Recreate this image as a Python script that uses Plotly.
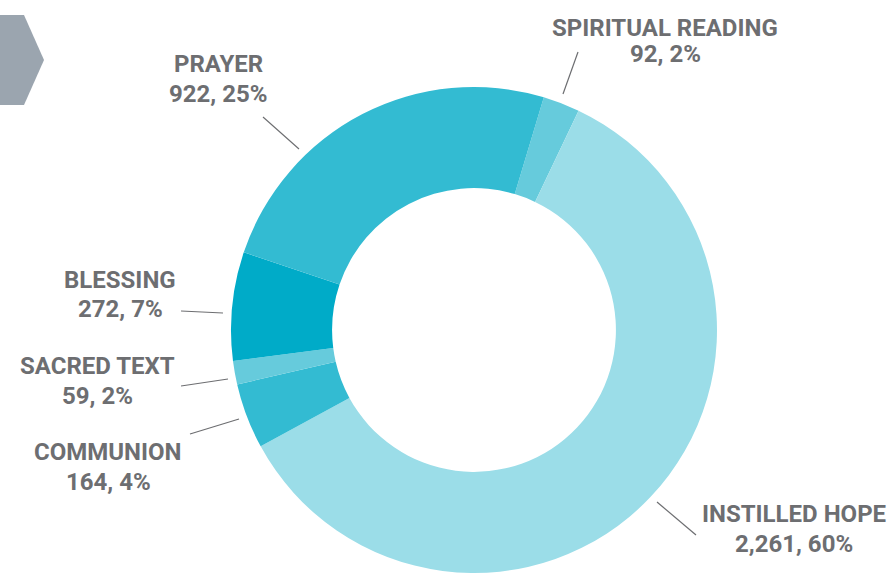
import plotly.graph_objects as go

W, H = 887, 574

categories = ["SPIRITUAL READING", "INSTILLED HOPE", "COMMUNION", "SACRED TEXT", "BLESSING", "PRAYER"]
values = [92, 2261, 164, 59, 272, 922]
percents = [2, 60, 4, 2, 7, 25]
colors = ["#66CBDC", "#9BDDE8", "#33BBD2", "#66CBDC", "#00ABC8", "#33BBD2"]

# label placement (pixel centers of the two text lines) and leader lines
label_pos = {
    "SPIRITUAL READING": (665, 28, 54),
    "INSTILLED HOPE": (794, 514, 544),
    "COMMUNION": (108, 452, 482),
    "SACRED TEXT": (97, 366, 396),
    "BLESSING": (120, 280, 309),
    "PRAYER": (218, 64, 94),
}
leaders = {
    "SPIRITUAL READING": ((578, 52), (563, 94)),
    "INSTILLED HOPE": ((657, 502), (696, 535)),
    "COMMUNION": ((190, 434), (239, 419)),
    "SACRED TEXT": ((181, 386), (228, 379)),
    "BLESSING": ((181, 311), (223, 313)),
    "PRAYER": ((263, 117), (299, 149)),
}

def px(x):
    return x / W

def py(y):
    return 1 - y / H

fig = go.Figure(go.Pie(
    labels=categories,
    values=values,
    sort=False,
    direction="clockwise",
    rotation=16.7,
    hole=0.584,
    marker=dict(colors=colors, line=dict(width=0)),
    textinfo="none",
    hoverinfo="skip",
    showlegend=False,
    domain=dict(x=[px(231), px(717)], y=[py(573), py(87)]),
))

font_family = "Roboto, sans-serif"
txt_color = "#6D6E71"
annotations = []
shapes = []
for cat, v, p in zip(categories, values, percents):
    cx, y1, y2 = label_pos[cat]
    annotations.append(dict(x=px(cx), y=py(y1), xref="paper", yref="paper",
                            text=f"<b>{cat}</b>", showarrow=False,
                            xanchor="center", yanchor="middle",
                            font=dict(family=font_family, size=24, color=txt_color)))
    annotations.append(dict(x=px(cx), y=py(y2), xref="paper", yref="paper",
                            text=f"<b>{v:,}, {p}%</b>", showarrow=False,
                            xanchor="center", yanchor="middle",
                            font=dict(family=font_family, size=24, color=txt_color)))
    (x0, y0), (x1, y1_) = leaders[cat]
    shapes.append(dict(type="line", xref="paper", yref="paper",
                       x0=px(x0), y0=py(y0), x1=px(x1), y1=py(y1_),
                       line=dict(color=txt_color, width=1.2)))

# decorative chevron at top-left
chev = [(0, 15), (24, 15), (44, 60), (24, 105), (0, 105)]
path = "M " + " L ".join(f"{px(x)},{py(y)}" for x, y in chev) + " Z"
shapes.append(dict(type="path", xref="paper", yref="paper", path=path,
                   fillcolor="#9BA5AF", line=dict(width=0)))

fig.update_layout(
    width=W, height=H,
    margin=dict(l=0, r=0, t=0, b=0),
    paper_bgcolor="white", plot_bgcolor="white",
    annotations=annotations,
    shapes=shapes,
)

fig.write_html("out.html", config={"displayModeBar": False},
               post_script="document.body.style.margin='0';")
